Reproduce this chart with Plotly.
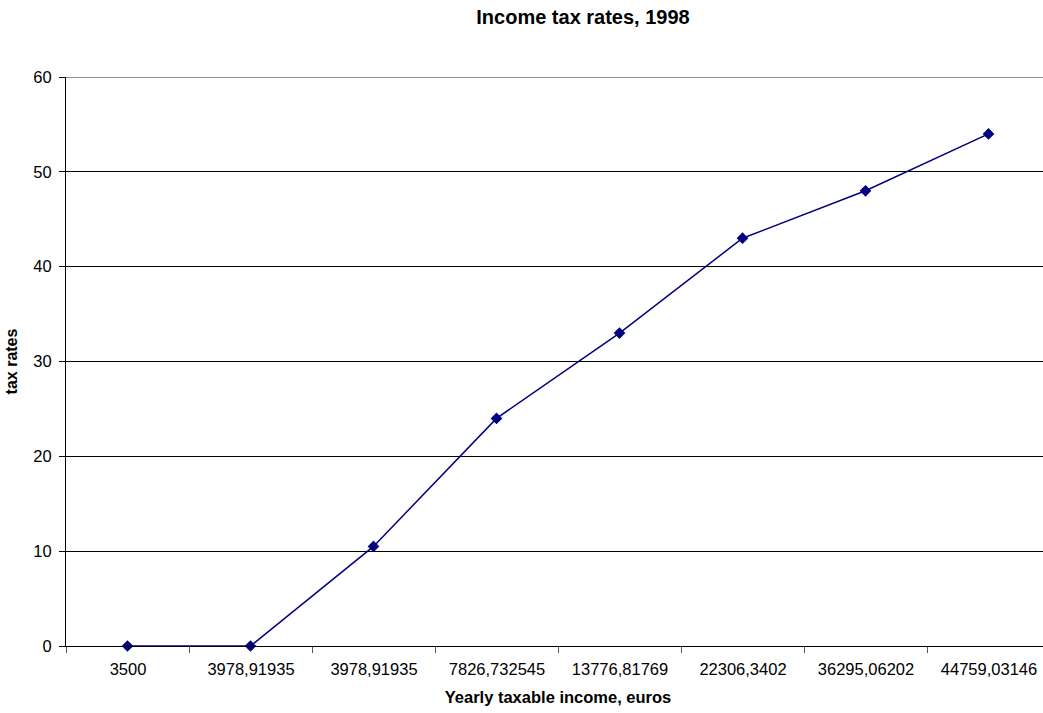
import plotly.graph_objects as go

categories = ["3500", "3978,91935", "3978,91935", "7826,732545", "13776,81769",
              "22306,3402", "36295,06202", "44759,03146"]
tax_rates = [0, 0, 10.5, 24, 33, 43, 48, 54]

n = len(categories)
pos = list(range(n))
boundaries = [i - 0.5 for i in range(n + 1)]

fig = go.Figure()
fig.add_trace(go.Scatter(
    x=pos, y=tax_rates, mode="lines+markers",
    line=dict(color="#000080", width=1.5),
    marker=dict(symbol="diamond", size=9, color="#000080"),
    showlegend=False, cliponaxis=False,
))

fig.update_layout(
    width=1050, height=713, autosize=False,
    margin=dict(l=66, r=0, t=77, b=67),
    paper_bgcolor="white", plot_bgcolor="white",
    font=dict(family="Liberation Sans, Arial, sans-serif", size=16.5, color="black"),
    title=dict(text="<b>Income tax rates, 1998</b>", x=583/1050, xref="container",
               xanchor="center", y=1 - 17/713, yref="container", yanchor="middle",
               font=dict(size=20, color="black")),
    xaxis=dict(
        range=[-0.5, n - 0.5], tickvals=boundaries,
        ticktext=categories + [""], ticklabelshift=62, ticks="outside",
        ticklen=6, tickcolor="#555555", showgrid=False, zeroline=False,
        showline=True, linecolor="black", linewidth=1,
        title=dict(text="<b>Yearly taxable income, euros</b>", standoff=14,
                   font=dict(size=16.5)),
        ticklabelstandoff=2, fixedrange=True,
    ),
    yaxis=dict(
        range=[0, 60], tickvals=[0, 10, 20, 30, 40, 50, 60], ticks="outside",
        ticklen=6, tickcolor="black", showgrid=True, gridcolor="black", gridwidth=1,
        zeroline=False, showline=True, linecolor="black", linewidth=1,
        title=dict(text="<b>tax rates</b>", standoff=11, font=dict(size=16)),
        ticklabelstandoff=4, fixedrange=True,
    ),
)
fig.add_shape(type="line", xref="paper", yref="y", x0=0, x1=1, y0=60, y1=60,
              line=dict(color="#909090", width=2), layer="above")

fig.write_html("out.html")
